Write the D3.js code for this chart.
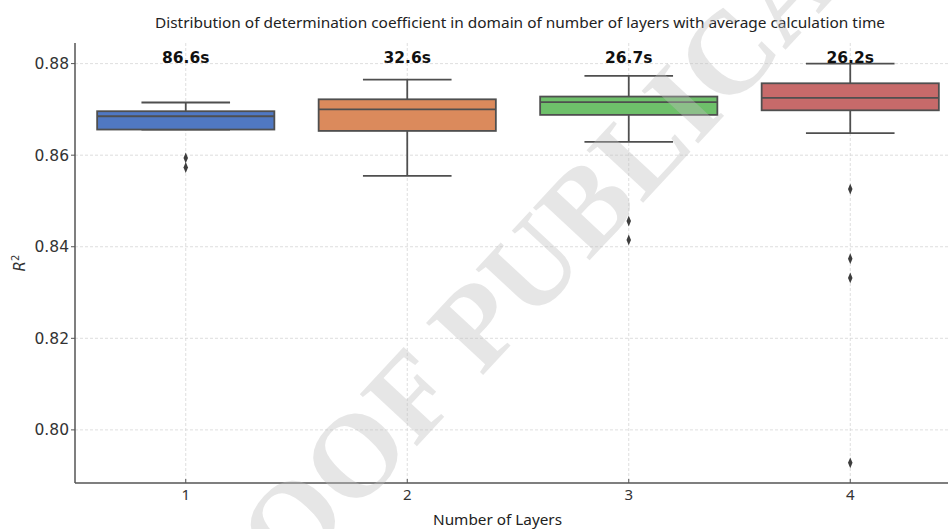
<!DOCTYPE html>
<html>
<head>
<meta charset="utf-8">
<script src="https://cdn.jsdelivr.net/npm/d3@7"></script>
<style>
  body { margin: 0; background: #fff; }
  svg { display: block; }
</style>
</head>
<body>
<script>
// values (box summary per number of layers)
const layers = ["1", "2", "3", "4"];
const avgTime = ["86.6s", "32.6s", "26.7s", "26.2s"];
const whiskerLow = [0.8656, 0.8555, 0.8629, 0.8648];
const q1 = [0.8656, 0.8653, 0.8688, 0.8698];
const median = [0.8685, 0.8700, 0.8716, 0.8725];
const q3 = [0.8696, 0.8722, 0.8728, 0.8757];
const whiskerHigh = [0.8715, 0.8765, 0.8773, 0.8800];
const outliers = [[0.8594, 0.8573], [], [0.8456, 0.8415], [0.8526, 0.8374, 0.8332, 0.7928]];
const boxColors = ["#5078c2", "#db8a5c", "#6ec06a", "#c76a6a"];
const yTicks = [0.80, 0.82, 0.84, 0.86, 0.88];

const width = 948, height = 529;
const svg = d3.select("body").append("svg")
    .attr("width", width)
    .attr("height", height);

// plot area (right edge runs past the picture, as in the reference)
const pLeft = 75, pRight = 961, pTop = 43, pBottom = 483;

const x = d3.scaleBand()
    .domain(layers)
    .range([pLeft, pRight]);

const y = d3.scaleLinear()
    .domain([0.7884, 0.8845])
    .range([pBottom, pTop]);

const cx = d => x(d) + x.bandwidth() / 2;
const boxW = x.bandwidth() * 0.8;

// grid
const grid = svg.append("g")
    .attr("stroke", "#d6d6d6")
    .attr("stroke-width", 0.8)
    .attr("stroke-dasharray", "3,2");
grid.selectAll("line.h")
    .data(yTicks)
    .join("line")
    .attr("class", "h")
    .attr("x1", pLeft).attr("x2", pRight)
    .attr("y1", d => y(d)).attr("y2", d => y(d));
grid.selectAll("line.v")
    .data(layers)
    .join("line")
    .attr("class", "v")
    .attr("x1", cx).attr("x2", cx)
    .attr("y1", pTop).attr("y2", pBottom);

// boxes
const lineCol = "#4f4f4f";
const boxes = svg.append("g")
    .selectAll("g")
    .data(layers)
    .join("g");

boxes.append("line") // upper whisker
    .attr("x1", cx).attr("x2", cx)
    .attr("y1", (d, i) => y(q3[i])).attr("y2", (d, i) => y(whiskerHigh[i]))
    .attr("stroke", lineCol).attr("stroke-width", 1.8);
boxes.append("line") // lower whisker
    .attr("x1", cx).attr("x2", cx)
    .attr("y1", (d, i) => y(q1[i])).attr("y2", (d, i) => y(whiskerLow[i]))
    .attr("stroke", lineCol).attr("stroke-width", 1.8);
boxes.append("line") // top cap
    .attr("x1", d => cx(d) - boxW / 4).attr("x2", d => cx(d) + boxW / 4)
    .attr("y1", (d, i) => y(whiskerHigh[i])).attr("y2", (d, i) => y(whiskerHigh[i]))
    .attr("stroke", lineCol).attr("stroke-width", 1.8);
boxes.append("line") // bottom cap
    .attr("x1", d => cx(d) - boxW / 4).attr("x2", d => cx(d) + boxW / 4)
    .attr("y1", (d, i) => y(whiskerLow[i])).attr("y2", (d, i) => y(whiskerLow[i]))
    .attr("stroke", lineCol).attr("stroke-width", 1.8);
boxes.append("rect")
    .attr("x", d => cx(d) - boxW / 2)
    .attr("width", boxW)
    .attr("y", (d, i) => y(q3[i]))
    .attr("height", (d, i) => y(q1[i]) - y(q3[i]))
    .attr("fill", (d, i) => boxColors[i])
    .attr("stroke", lineCol).attr("stroke-width", 1.8);
boxes.append("line") // median
    .attr("x1", d => cx(d) - boxW / 2).attr("x2", d => cx(d) + boxW / 2)
    .attr("y1", (d, i) => y(median[i])).attr("y2", (d, i) => y(median[i]))
    .attr("stroke", lineCol).attr("stroke-width", 1.8);

// outliers, thin diamonds
const diamond = d3.symbol().type(d3.symbolDiamond).size(34);
boxes.each(function(d, i) {
    d3.select(this).selectAll("path.flier")
        .data(outliers[i])
        .join("path")
        .attr("class", "flier")
        .attr("d", diamond)
        .attr("transform", v => `translate(${cx(d)},${y(v)}) scale(0.72,1)`)
        .attr("fill", "#3d3d3d");
});

// average time labels
svg.append("g")
    .selectAll("text")
    .data(layers)
    .join("text")
    .attr("x", cx)
    .attr("y", y(0.8802))
    .attr("text-anchor", "middle")
    .attr("font-family", "DejaVu Sans")
    .attr("font-weight", "bold")
    .attr("font-size", 15.5)
    .attr("fill", "#111")
    .text((d, i) => avgTime[i]);

// spines
svg.append("line")
    .attr("x1", pLeft).attr("x2", pLeft).attr("y1", pTop).attr("y2", pBottom)
    .attr("stroke", "#555").attr("stroke-width", 1.5);
svg.append("line")
    .attr("x1", pLeft).attr("x2", pRight).attr("y1", pBottom).attr("y2", pBottom)
    .attr("stroke", "#555").attr("stroke-width", 1.5);

// y ticks
const yAx = svg.append("g");
yAx.selectAll("line")
    .data(yTicks)
    .join("line")
    .attr("x1", pLeft - 4).attr("x2", pLeft)
    .attr("y1", d => y(d)).attr("y2", d => y(d))
    .attr("stroke", "#555").attr("stroke-width", 1);
yAx.selectAll("text")
    .data(yTicks)
    .join("text")
    .attr("x", pLeft - 6)
    .attr("y", d => y(d))
    .attr("dy", "0.36em")
    .attr("text-anchor", "end")
    .attr("font-family", "DejaVu Sans")
    .attr("font-size", 15.5)
    .attr("fill", "#333")
    .text(d3.format(".2f"));

// x ticks
const xAx = svg.append("g");
xAx.selectAll("line")
    .data(layers)
    .join("line")
    .attr("x1", cx).attr("x2", cx)
    .attr("y1", pBottom - 4).attr("y2", pBottom)
    .attr("stroke", "#555").attr("stroke-width", 1);
xAx.selectAll("text")
    .data(layers)
    .join("text")
    .attr("x", cx)
    .attr("y", 500)
    .attr("text-anchor", "middle")
    .attr("font-family", "Noto Sans")
    .attr("font-size", 15)
    .attr("fill", "#333")
    .text(d => d);

// axis labels and title
svg.append("text")
    .attr("x", 433).attr("y", 525)
    .attr("font-family", "Noto Sans")
    .attr("font-size", 14)
    .attr("textLength", 129)
    .attr("lengthAdjust", "spacingAndGlyphs")
    .attr("fill", "#222")
    .text("Number of Layers");

const rLab = svg.append("text")
    .attr("transform", `translate(25,${(pTop + pBottom) / 2}) rotate(-90)`)
    .attr("text-anchor", "middle")
    .attr("font-family", "DejaVu Sans")
    .attr("font-size", 15)
    .attr("fill", "#333");
rLab.append("tspan").attr("font-style", "italic").text("R");
rLab.append("tspan").attr("font-size", 10).attr("dy", -6).text("2");

svg.append("text")
    .attr("x", 155).attr("y", 28)
    .attr("font-family", "Noto Sans")
    .attr("font-size", 14.5)
    .attr("textLength", 730)
    .attr("lengthAdjust", "spacingAndGlyphs")
    .attr("fill", "#222")
    .text("Distribution of determination coefficient in domain of number of layers with average calculation time");

// watermark on top, half transparent
svg.append("text")
    .attr("transform", "translate(183,698) rotate(-47.1)")
    .attr("font-family", "Liberation Serif")
    .attr("font-weight", "bold")
    .attr("font-size", 118)
    .attr("fill", "#bcbcbc")
    .attr("fill-opacity", 0.38)
    .text("PROOF PUBLICATION");
</script>
</body>
</html>
